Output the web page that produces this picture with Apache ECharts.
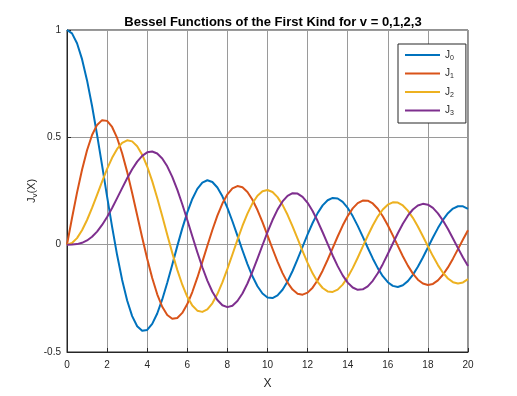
<!DOCTYPE html>
<html>
<head>
<meta charset="utf-8">
<script src="https://cdn.jsdelivr.net/npm/echarts@6/dist/echarts.min.js"></script>
<style>html,body{margin:0;padding:0;background:#fff;}#c{width:517px;height:396px;}</style>
</head>
<body>
<div id="c"></div>
<script>
var xValues = [0,0.25,0.5,0.75,1,1.25,1.5,1.75,2,2.25,2.5,2.75,3,3.25,3.5,3.75,4,4.25,4.5,4.75,5,5.25,5.5,5.75,6,6.25,6.5,6.75,7,7.25,7.5,7.75,8,8.25,8.5,8.75,9,9.25,9.5,9.75,10,10.25,10.5,10.75,11,11.25,11.5,11.75,12,12.25,12.5,12.75,13,13.25,13.5,13.75,14,14.25,14.5,14.75,15,15.25,15.5,15.75,16,16.25,16.5,16.75,17,17.25,17.5,17.75,18,18.25,18.5,18.75,19,19.25,19.5,19.75,20];
var j0 = [1,0.9844,0.9385,0.8642,0.7652,0.6459,0.5118,0.3690,0.2239,0.0828,-0.0484,-0.1641,-0.2601,-0.3327,-0.3801,-0.4013,-0.3971,-0.3691,-0.3205,-0.2551,-0.1776,-0.0931,-0.0068,0.0759,0.1506,0.2130,0.2601,0.2894,0.3001,0.2919,0.2663,0.2252,0.1717,0.1092,0.0419,-0.0259,-0.0903,-0.1474,-0.1939,-0.2273,-0.2459,-0.2489,-0.2366,-0.2100,-0.1712,-0.1227,-0.0677,-0.0097,0.0477,0.1009,0.1469,0.1829,0.2069,0.2177,0.2150,0.1990,0.1711,0.1331,0.0875,0.0374,-0.0142,-0.0641,-0.1092,-0.1469,-0.1749,-0.1919,-0.1969,-0.1891,-0.1699,-0.1407,-0.1033,-0.0599,-0.0134,0.0332,0.0772,0.1157,0.1465,0.1680,0.1789,0.1784,0.1670];
var j1 = [0,0.1240,0.2423,0.3493,0.4401,0.5106,0.5579,0.5801,0.5767,0.5483,0.4971,0.4260,0.3391,0.2411,0.1374,0.0333,-0.0660,-0.1555,-0.2311,-0.2892,-0.3276,-0.3450,-0.3414,-0.3179,-0.2767,-0.2207,-0.1538,-0.0803,-0.0047,0.0685,0.1352,0.1915,0.2346,0.2621,0.2731,0.2672,0.2453,0.2091,0.1613,0.1049,0.0435,-0.0190,-0.0789,-0.1325,-0.1768,-0.2093,-0.2284,-0.2330,-0.2234,-0.2003,-0.1655,-0.1212,-0.0703,-0.0162,0.0380,0.0889,0.1334,0.1689,0.1934,0.2056,0.2051,0.1919,0.1671,0.1325,0.0903,0.0433,-0.0058,-0.0538,-0.0977,-0.1348,-0.1632,-0.1812,-0.1879,-0.1828,-0.1666,-0.1403,-0.1058,-0.0651,-0.0209,0.0240,0.0668];
var j2 = [0,0.0078,0.0306,0.0671,0.1149,0.1711,0.2321,0.2940,0.3528,0.4047,0.4461,0.4739,0.4861,0.4811,0.4586,0.4191,0.3641,0.2959,0.2178,0.1333,0.0466,-0.0383,-0.1173,-0.1865,-0.2429,-0.2837,-0.3074,-0.3132,-0.3014,-0.2730,-0.2302,-0.1757,-0.1130,-0.0456,0.0224,0.0870,0.1448,0.1926,0.2279,0.2488,0.2546,0.2452,0.2216,0.1854,0.1391,0.0855,0.0280,-0.0300,-0.0849,-0.1336,-0.1734,-0.2019,-0.2177,-0.2202,-0.2094,-0.1861,-0.1520,-0.1093,-0.0608,-0.0095,0.0415,0.0892,0.1308,0.1637,0.1862,0.1972,0.1962,0.1827,0.1584,0.1250,0.0846,0.0394,-0.0075,-0.0533,-0.0952,-0.1306,-0.1576,-0.1747,-0.1809,-0.1759,-0.1603];
var j3 = [0,0.0003,0.0026,0.0085,0.0196,0.0369,0.0610,0.0919,0.1289,0.1711,0.2167,0.2635,0.3091,0.3510,0.3867,0.4138,0.4301,0.4341,0.4247,0.4015,0.3649,0.3158,0.2561,0.1882,0.1148,0.0391,-0.0354,-0.1053,-0.1675,-0.2192,-0.2580,-0.2823,-0.2911,-0.2843,-0.2626,-0.2274,-0.1809,-0.1258,-0.0653,-0.0028,0.0583,0.1147,0.1633,0.2015,0.2274,0.2397,0.2381,0.2228,0.1951,0.1567,0.1100,0.0578,0.0033,-0.0503,-0.1000,-0.1430,-0.1768,-0.1996,-0.2102,-0.2082,-0.1940,-0.1684,-0.1333,-0.0909,-0.0437,0.0053,0.0534,0.0974,0.1350,0.1638,0.1825,0.1901,0.1862,0.1711,0.1460,0.1124,0.0726,0.0288,-0.0162,-0.0596,-0.0989];
var seriesNames = ['J0','J1','J2','J3'];
var seriesColors = ['#0072BD','#D95319','#EDB120','#7E2F8E'];
var seriesData = [j0,j1,j2,j3];
var xTicks = [0,2,4,6,8,10,12,14,16,18,20];
var yTicks = [-0.5,0,0.5,1];

var FONT = 'Liberation Sans, Arial, Helvetica, sans-serif';
var chart = echarts.init(document.getElementById('c'), null, {renderer:'canvas'});
var series = seriesData.map(function(d, i){
  return {
    name: seriesNames[i], type:'line', smooth:false, symbol:'none', showSymbol:false,
    data: xValues.map(function(x, k){ return [x, d[k]]; }),
    lineStyle:{color:seriesColors[i], width:2, join:'round'}, itemStyle:{color:seriesColors[i]},
    emphasis:{disabled:true}, animation:false, z: 3
  };
});
var sub = {
  a:{fontFamily:FONT, fontSize:10, color:'#262626'},
  b:{fontFamily:FONT, fontSize:7, color:'#262626', padding:[6,0,0,0]}
};
chart.setOption({
  backgroundColor:'#fff',
  animation:false,
  title:{text:'Bessel Functions of the First Kind for v = 0,1,2,3', left:268, top:11, textAlign:'center',
    textStyle:{fontFamily:FONT, fontSize:13, fontWeight:'bold', color:'#000'}},
  grid:{left:67, top:30, width:401, height:322, show:true, borderColor:'#262626', borderWidth:1, backgroundColor:'#fff', containLabel:false},
  legend:{
    orient:'vertical', left:398, top:44,
    padding:[6,12,6,7], itemGap:7, itemWidth:35, itemHeight:2, icon:'rect',
    backgroundColor:'#fff', borderColor:'#262626', borderWidth:1,
    data: seriesNames,
    formatter:function(n){ return '{a|J}{b|' + n.slice(1) + '}'; },
    textStyle:{fontFamily:FONT, fontSize:10, color:'#262626', rich:sub}
  },
  xAxis:{type:'value', min:0, max:20, interval:2,
    name:'X', nameLocation:'middle', nameGap:26, nameMoveOverlap:false,
    nameTextStyle:{fontFamily:FONT, fontSize:12, color:'#262626'},
    axisLine:{show:true, onZero:false, lineStyle:{color:'#262626', width:1}},
    axisTick:{show:true, inside:true, length:4, lineStyle:{color:'#262626'}},
    axisLabel:{fontFamily:FONT, fontSize:10, color:'#262626', margin:8,
      formatter:function(v){ return xTicks.indexOf(v) >= 0 ? String(v) : ''; }},
    splitLine:{show:true, lineStyle:{color:'#9a9a9a', width:1}}
  },
  yAxis:{type:'value', min:-0.5, max:1, interval:0.5,
    name:'{a|J}{b|v}{a|(X)}', nameLocation:'middle', nameGap:28, nameRotate:90, nameMoveOverlap:false,
    nameTextStyle:{fontFamily:FONT, fontSize:11, color:'#262626',
      rich:{a:{fontFamily:FONT, fontSize:11, color:'#262626'}, b:{fontFamily:FONT, fontSize:8, color:'#262626', padding:[7,0,0,0]}}},
    axisLine:{show:true, onZero:false, lineStyle:{color:'#262626', width:1}},
    axisTick:{show:true, inside:true, length:4, lineStyle:{color:'#262626'}},
    axisLabel:{fontFamily:FONT, fontSize:10, color:'#262626', margin:6,
      formatter:function(v){ return yTicks.indexOf(v) >= 0 ? String(v) : ''; }},
    splitLine:{show:true, lineStyle:{color:'#9a9a9a', width:1}}
  },
  series: series
});
</script>
</body>
</html>
